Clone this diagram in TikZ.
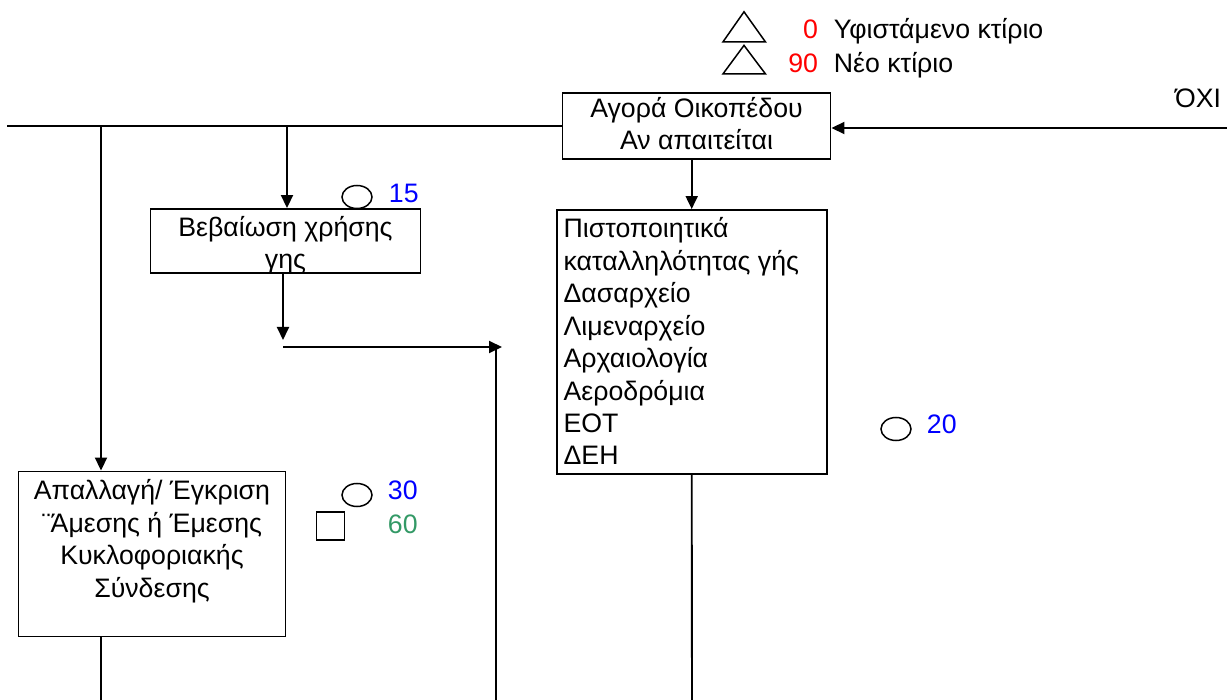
\documentclass[tikz,border=0pt]{standalone}
\usepackage{fontspec}
\setmainfont{Liberation Sans}
\usetikzlibrary{shapes,arrows.meta}
\definecolor{numred}{RGB}{255,0,0}
\definecolor{numblue}{RGB}{0,0,255}
\definecolor{numgreen}{RGB}{51,153,102}

\begin{document}
\begin{tikzpicture}[x=1pt,y=-1pt,line width=1.9pt,
    >={Triangle[length=13pt,width=12pt]},
    every node/.style={font=\fontsize{26.7}{32.5}\selectfont},
    lbl/.style={inner sep=0pt},
    timer/.style={ellipse,draw,line width=1.5pt,inner sep=0pt,
                  minimum width=30pt,minimum height=23pt}]

      \useasboundingbox (0,0) rectangle (1227,700);

      \node[rectangle,
            draw,
            minimum width = 268pt,
            minimum height = 66pt] (agora) at (696.5,126) {};
      \node[lbl,align=center,anchor=base] at (agora.center |- 0,149.6) {Αγορά Οικοπέδου\\Αν απαιτείται};

      \node[rectangle,
            draw,
            minimum width = 270pt,
            minimum height = 64pt] (bebaiosi) at (285.5,241) {};
      \node[lbl,align=center,anchor=base] at (bebaiosi.center |- 0,269) {Βεβαίωση χρήσης\\γης};

      \node[rectangle,
            draw,
            minimum width = 270pt,
            minimum height = 264pt] (pistop) at (691.7,342) {};
      \node[lbl,align=left,anchor=base west] at (562.7,465) {Πιστοποιητικά\\καταλληλότητας γής\\Δασαρχείο\\Λιμεναρχείο\\Αρχαιολογία\\Αεροδρόμια\\ΕΟΤ\\ΔΕΗ};

      \node[rectangle,
            draw,
            minimum width = 267pt,
            minimum height = 165pt] (apallagi) at (152,554) {};
      \node[lbl,align=center,anchor=base] at (apallagi.center |- 0,597) {Απαλλαγή/ Έγκριση\\¨Άμεσης ή Έμεσης\\Κυκλοφοριακής\\Σύνδεσης};

      % legend
      \draw[line width=1.5pt] (722.9,42) -- (744,11.8) -- (765.5,42) -- cycle;
      \draw[line width=1.5pt] (722.9,74) -- (744,45.4) -- (765.5,74) -- cycle;
      \node[lbl,anchor=base east,text=numred] at (819,39) {0};
      \node[lbl,anchor=base west] at (833,39) {Υφιστάμενο κτίριο};
      \node[lbl,anchor=base east,text=numred] at (819,73) {90};
      \node[lbl,anchor=base west] at (833,73) {Νέο κτίριο};
      \node[lbl,anchor=base east] at (1222,108) {ΌΧΙ};

      % durations
      \node[timer] (t15) at (357,197) {};
      \node[lbl,anchor=base west,text=numblue] at (388,203) {15};
      \node[timer] (t20) at (896,429) {};
      \node[lbl,anchor=base west,text=numblue] at (926,434) {20};
      \node[timer] (t30) at (357,495) {};
      \node[lbl,anchor=base west,text=numblue] at (387,500) {30};
      \node[rectangle,draw,line width=1.5pt,minimum size=28pt] (s60) at (330.5,526) {};
      \node[lbl,anchor=base west,text=numgreen] at (387,533) {60};

      \coordinate (lft) at (7,126);
      \coordinate (rgt) at (1227,128);
      \coordinate (j1) at (101,126);
      \coordinate (j2) at (287,126);
      \coordinate (k1) at (283,340);
      \coordinate (k2) at (283,347);
      \coordinate (k3) at (502,347);
      \coordinate (k4) at (496,347);
      \coordinate (k5) at (496,700);
      \coordinate (b1) at (101,700);
      \coordinate (b3) at (692,700);

      \path[->]
      % top path
      (rgt) edge (rgt -| agora.east)
      (lft) edge[-] (agora.west)
      (j1) edge (j1 |- apallagi.north)
      (j2) edge (j2 |- bebaiosi.north)
      (agora.south -| pistop.north) edge (pistop.north)
      % lower paths
      (bebaiosi.south -| k1) edge (k1)
      (k2) edge (k3)
      (k4) edge[-] (k5)
      (j1 |- apallagi.south) edge[-] (b1)
      (pistop.south) edge[-] (b3);

\end{tikzpicture}
\end{document}
